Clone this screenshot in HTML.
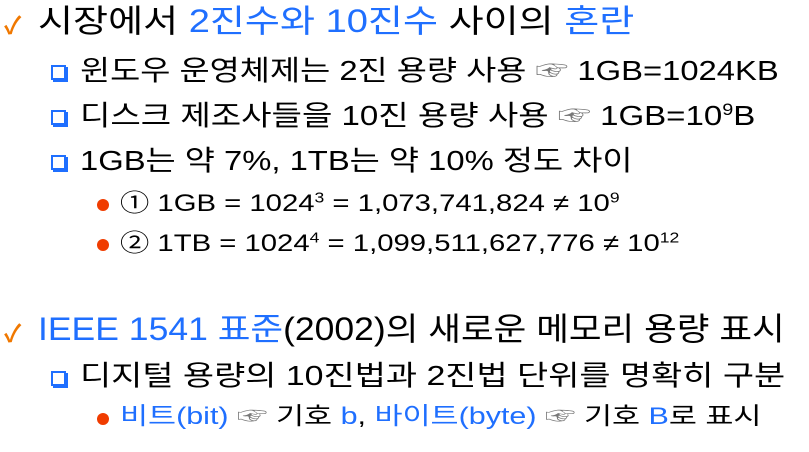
<!DOCTYPE html>
<html><head><meta charset="utf-8"><style>
body{margin:0;width:809px;height:452px;background:#fff;overflow:hidden;position:relative;font-family:"Liberation Sans","Noto Sans CJK KR","NanumGothic",sans-serif;color:#000}
.l{position:absolute;white-space:nowrap;line-height:1;transform-origin:0 50%}
.b{color:#1f6fff}
.l1{font-size:32px}
.l2{font-size:28px}
.l3{font-size:24px}
.chk{position:absolute;color:#f07800;font-size:24px;font-weight:bold}
.sq{position:absolute;width:11px;height:11px;border:2px solid #1f6fff;box-shadow:2px 2px 0 #1f6fff;background:#fff}
.dot{position:absolute;width:12px;height:12px;border-radius:50%;background:#f03c00}
sup{font-size:60%;vertical-align:0.6em;line-height:0}
.hand{color:#777}
</style></head><body>
<span class="chk" style="left:4px;top:6px">✓</span>
<div class="l l1" style="left:38px;top:5px;transform:scaleX(1.19)">시장에서 <span class="b">2진수와 10진수</span> 사이의 <span class="b">혼란</span></div>

<div class="sq" style="left:51px;top:65px"></div>
<div class="l l2" style="left:80px;top:57px;transform:scaleX(1.17)">윈도우 운영체제는 2진 용량 사용 <span class="hand">☞</span> 1GB=1024KB</div>
<div class="sq" style="left:51px;top:110px"></div>
<div class="l l2" style="left:80px;top:102px;transform:scaleX(1.18)">디스크 제조사들을 10진 용량 사용 <span class="hand">☞</span> 1GB=10<sup>9</sup>B</div>
<div class="sq" style="left:51px;top:155px"></div>
<div class="l l2" style="left:80px;top:147px;transform:scaleX(1.17)">1GB는 약 7%, 1TB는 약 10% 정도 차이</div>

<div class="dot" style="left:97px;top:199px"></div>
<div class="l l3" style="left:120px;top:192px;transform:scaleX(1.22)">① 1GB = 1024<sup>3</sup> = 1,073,741,824 ≠ 10<sup>9</sup></div>
<div class="dot" style="left:97px;top:239px"></div>
<div class="l l3" style="left:120px;top:232px;transform:scaleX(1.22)">② 1TB = 1024<sup>4</sup> = 1,099,511,627,776 ≠ 10<sup>12</sup></div>

<span class="chk" style="left:4px;top:314px">✓</span>
<div class="l l1" style="left:38px;top:313px;transform:scaleX(1.11)"><span class="b">IEEE 1541 표준</span>(2002)의 새로운 메모리 용량 표시</div>
<div class="sq" style="left:51px;top:371px"></div>
<div class="l l2" style="left:80px;top:362px;transform:scaleX(1.21)">디지털 용량의 10진법과 2진법 단위를 명확히 구분</div>
<div class="dot" style="left:97px;top:413px"></div>
<div class="l l3" style="left:120px;top:405px;transform:scaleX(1.27)"><span class="b">비트(bit)</span> <span class="hand">☞</span> 기호 <span class="b">b</span>, <span class="b">바이트(byte)</span> <span class="hand">☞</span> 기호 <span class="b">B</span>로 표시</div>
</body></html>
